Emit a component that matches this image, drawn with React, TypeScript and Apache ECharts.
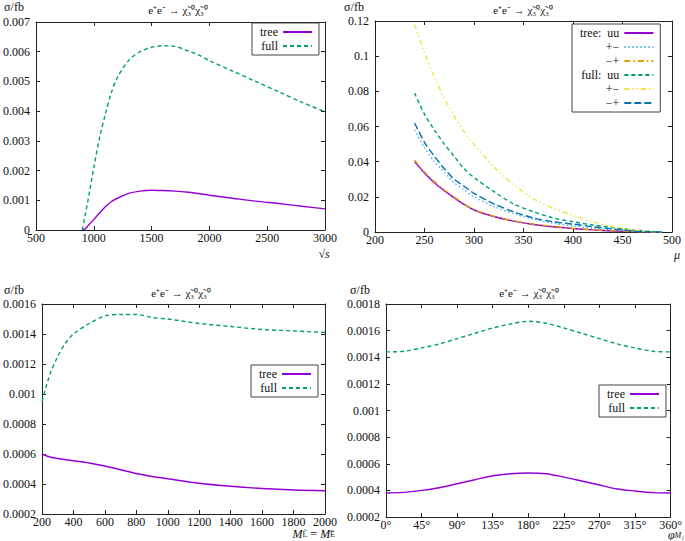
import React, { useEffect, useRef } from "react";
import * as echarts from "echarts";

// ---------- Data ----------
// Panel 1: sigma vs sqrt(s)
const p1X = [900, 925, 950, 1000, 1050, 1100, 1150, 1200, 1300, 1400, 1500, 1600, 1700, 1800, 1900, 2000, 2200, 2400, 2600, 2800, 3000];
const p1Tree = [0, 0.00004, 0.00014, 0.00035, 0.00057, 0.00078, 0.00095, 0.00106, 0.00123, 0.00131, 0.00134, 0.00133, 0.00131, 0.00128, 0.00123, 0.00117, 0.00107, 0.00097, 0.00089, 0.0008, 0.00071];
const p1Full = [0, 0.0005, 0.001, 0.0021, 0.0031, 0.0039, 0.0046, 0.0051, 0.0057, 0.006, 0.00615, 0.0062, 0.00618, 0.00605, 0.0059, 0.0057, 0.00535, 0.005, 0.00465, 0.0043, 0.00398];

// Panel 2: sigma vs mu
const p2X = [240, 250, 260, 270, 280, 290, 300, 320, 340, 360, 380, 400, 420, 440, 460, 470, 480, 490];
const p2TreeUU = [0.040, 0.0335, 0.028, 0.0235, 0.0195, 0.0157, 0.0125, 0.0088, 0.0062, 0.0043, 0.003, 0.002, 0.0012, 0.0006, 0.0002, 0.0001, 0, 0];
const p2TreePM = [0.058, 0.048, 0.040, 0.034, 0.028, 0.024, 0.020, 0.0145, 0.0105, 0.0073, 0.005, 0.0035, 0.0022, 0.0012, 0.0004, 0.0001, 0, 0];
const p2TreeMP = [0.041, 0.0342, 0.0287, 0.024, 0.0199, 0.016, 0.0128, 0.009, 0.0064, 0.0045, 0.0032, 0.0021, 0.0013, 0.0007, 0.0003, 0.0001, 0, 0];
const p2FullUU = [0.079, 0.067, 0.058, 0.050, 0.043, 0.036, 0.031, 0.023, 0.016, 0.0115, 0.008, 0.0058, 0.004, 0.0025, 0.0012, 0.0007, 0.0003, 0];
const p2FullPM = [0.118, 0.102, 0.088, 0.076, 0.066, 0.057, 0.050, 0.037, 0.027, 0.019, 0.0135, 0.0095, 0.0058, 0.003, 0.0012, 0.0006, 0.0002, 0];
const p2FullMP = [0.062, 0.051, 0.043, 0.036, 0.030, 0.026, 0.022, 0.016, 0.0115, 0.008, 0.0058, 0.0045, 0.003, 0.0017, 0.0006, 0.0002, 0, 0];

// Panel 3: sigma vs M_L = M_E
const p3X = [200, 250, 300, 350, 400, 500, 600, 700, 800, 900, 1000, 1200, 1400, 1600, 1800, 2000];
const p3Tree = [0.0006, 0.00058, 0.00057, 0.000562, 0.000555, 0.00054, 0.00052, 0.000495, 0.00047, 0.00045, 0.000435, 0.000405, 0.000385, 0.00037, 0.00036, 0.000355];
const p3Full = [0.00095, 0.00113, 0.00125, 0.00134, 0.0014, 0.00147, 0.00152, 0.00153, 0.00153, 0.00151, 0.0015, 0.00147, 0.00145, 0.00143, 0.00142, 0.00141];

// Panel 4: sigma vs phi_M1
const p4X = [0, 22.5, 45, 67.5, 90, 112.5, 135, 157.5, 180, 202.5, 225, 247.5, 270, 292.5, 315, 337.5, 360];
const p4Tree = [0.00038, 0.000385, 0.0004, 0.00042, 0.00045, 0.00048, 0.00051, 0.000525, 0.00053, 0.000525, 0.0005, 0.00047, 0.00044, 0.00041, 0.000395, 0.000383, 0.00038];
const p4Full = [0.00144, 0.001445, 0.00147, 0.0015, 0.00154, 0.00158, 0.00162, 0.00165, 0.00167, 0.001655, 0.00162, 0.00158, 0.00154, 0.0015, 0.00147, 0.001445, 0.00144];

const p4Ticks = ["0°", "45°", "90°", "135°", "180°", "225°", "270°", "315°", "360°"];

const FONT = "Liberation Serif";
const AX = "#222";
const PURPLE = "#9400d3";
const GREEN = "#009e73";
const LBLUE = "#56b4e9";
const ORANGE = "#e69f00";
const YELLOW = "#f0e442";
const BLUE = "#0072b2";

const pairs = (xs: number[], ys: number[]) => xs.map((x, i) => [x, ys[i]]);
const plain = (v: number) => String(v);

function xAxes(grid: number, min: number, max: number, interval: number, fmt: any = plain) {
  const base = {
    gridIndex: grid,
    type: "value",
    min,
    max,
    interval,
    axisLine: { show: true, onZero: false, lineStyle: { color: AX, width: 1 } },
    axisTick: { show: true, inside: true, length: 4, lineStyle: { color: AX } },
    splitLine: { show: false },
  };
  return [
    {
      ...base,
      position: "bottom",
      axisLabel: { color: "#111", fontFamily: FONT, fontSize: 12, margin: 2, formatter: fmt },
    },
    { ...base, position: "top", axisLabel: { show: false } },
  ];
}

function yAxes(grid: number, min: number, max: number, interval: number) {
  const base = {
    gridIndex: grid,
    type: "value",
    min,
    max,
    interval,
    axisLine: { show: true, onZero: false, lineStyle: { color: AX, width: 1 } },
    axisTick: { show: true, inside: true, length: 4, lineStyle: { color: AX } },
    splitLine: { show: false },
  };
  return [
    {
      ...base,
      position: "left",
      axisLabel: { color: "#111", fontFamily: FONT, fontSize: 12, margin: 6 },
    },
    { ...base, position: "right", axisLabel: { show: false } },
  ];
}

function line(name: string, ax: number, data: number[][], color: string, type: any) {
  return {
    type: "line",
    name,
    xAxisIndex: ax,
    yAxisIndex: ax,
    data,
    symbol: "none",
    smooth: 0.3,
    lineStyle: { color, width: 1.4, type },
    itemStyle: { color },
  };
}

const DASH = [4, 3];
const DOT = [1.5, 2.5];
const DASHDOT = [6, 3, 1.5, 3];
const DASHDOTDOT = [5, 3, 1.5, 2.5, 1.5, 3];
const LONGDASH = [7, 3];

const p2Labels: Record<string, string> = {
  "tree: uu": "tree:  uu",
  "tree +−": "+−",
  "tree −+": "−+",
  "full: uu": "full:  uu",
  "full +−": "+−",
  "full −+": "−+",
};

function legendAt(left: number, top: number, data: string[], fmt?: any) {
  return {
    orient: "vertical",
    align: "right",
    left,
    top,
    data,
    formatter: fmt,
    itemWidth: 29,
    itemHeight: 8,
    itemGap: 2,
    padding: [3, 6, 3, 8],
    borderColor: "#444",
    borderWidth: 1,
    backgroundColor: "#fff",
    selectedMode: false,
    itemStyle: { opacity: 0 },
    textStyle: { fontFamily: FONT, fontSize: 12, color: "#111" },
  };
}

const TITLE = "e⁺e⁻ → χ̃₃⁰χ̃₃⁰";

function txt(x: number, y: number, text: string, extra: any = {}) {
  return {
    type: "text",
    x,
    y,
    style: {
      text,
      fontFamily: FONT,
      fontSize: 12,
      fill: "#111",
      align: "center",
      verticalAlign: "middle",
      ...extra,
    },
  };
}

export default function App() {
  const ref = useRef<HTMLDivElement>(null);

  useEffect(() => {
    document.body.style.margin = "0";
    const chart = echarts.init(ref.current!, null, { renderer: "svg" });

    const xs = [
      ...xAxes(0, 500, 3000, 500),
      ...xAxes(1, 200, 500, 50),
      ...xAxes(2, 200, 2000, 200),
      ...xAxes(3, 0, 360, 45, (v: number) => p4Ticks[Math.round(v / 45)]),
    ];
    const ys = [
      ...yAxes(0, 0, 0.007, 0.001),
      ...yAxes(1, 0, 0.12, 0.02),
      ...yAxes(2, 0.0002, 0.0016, 0.0002),
      ...yAxes(3, 0.0002, 0.0018, 0.0002),
    ];

    chart.setOption({
      animation: false,
      backgroundColor: "#fff",
      textStyle: { fontFamily: FONT },
      grid: [
        { left: 35, top: 22, width: 290, height: 208 },
        { left: 375, top: 21, width: 297, height: 211 },
        { left: 40, top: 304, width: 285, height: 210 },
        { left: 386, top: 304, width: 287, height: 213 },
      ],
      xAxis: xs,
      yAxis: ys,
      legend: [
        legendAt(252, 23, ["tree", "full"]),
        legendAt(572, 24, Object.keys(p2Labels), (n: string) => p2Labels[n] ?? n),
        legendAt(251, 365, ["tree", "full"]),
        legendAt(599, 385, ["tree", "full"]),
      ],
      series: [
        line("tree", 0, pairs(p1X, p1Tree), PURPLE, "solid"),
        line("full", 0, pairs(p1X, p1Full), GREEN, DASH),
        line("tree: uu", 2, pairs(p2X, p2TreeUU), PURPLE, "solid"),
        line("tree +−", 2, pairs(p2X, p2TreePM), LBLUE, DOT),
        line("tree −+", 2, pairs(p2X, p2TreeMP), ORANGE, DASHDOT),
        line("full: uu", 2, pairs(p2X, p2FullUU), GREEN, DASH),
        line("full +−", 2, pairs(p2X, p2FullPM), YELLOW, DASHDOTDOT),
        line("full −+", 2, pairs(p2X, p2FullMP), BLUE, LONGDASH),
        line("tree", 4, pairs(p3X, p3Tree), PURPLE, "solid"),
        line("full", 4, pairs(p3X, p3Full), GREEN, DASH),
        line("tree", 6, pairs(p4X, p4Tree), PURPLE, "solid"),
        line("full", 6, pairs(p4X, p4Full), GREEN, DASH),
      ],
      graphic: [
        txt(178, 10, TITLE, { fontSize: 11 }),
        txt(523, 10, TITLE, { fontSize: 11 }),
        txt(181, 293, TITLE, { fontSize: 11 }),
        txt(529, 293, TITLE, { fontSize: 11 }),
        txt(14, 7, "σ/fb"),
        txt(354, 7, "σ/fb"),
        txt(14, 290, "σ/fb"),
        txt(360, 290, "σ/fb"),
        txt(324, 254, "√s", { fontStyle: "italic" }),
        txt(677, 255, "μ", { fontStyle: "italic" }),
        {
          type: "text",
          x: 335,
          y: 534,
          style: {
            text: "{i|M}{s|L̃} = {i|M}{s|Ẽ}",
            fontFamily: FONT,
            fill: "#111",
            align: "right",
            verticalAlign: "middle",
            rich: {
              i: { fontFamily: FONT, fontSize: 12, fontStyle: "italic", fill: "#111" },
              s: { fontFamily: FONT, fontSize: 8, fill: "#111" },
            },
          },
        },
        {
          type: "text",
          x: 684,
          y: 535,
          style: {
            text: "{i|φ}{s|M₁}",
            fontFamily: FONT,
            fill: "#111",
            align: "right",
            verticalAlign: "middle",
            rich: {
              i: { fontFamily: FONT, fontSize: 12, fontStyle: "italic", fill: "#111" },
              s: { fontFamily: FONT, fontSize: 8, fontStyle: "italic", fill: "#111" },
            },
          },
        },
      ],
    });

    return () => chart.dispose();
  }, []);

  return <div ref={ref} style={{ width: 685, height: 541 }} />;
}
